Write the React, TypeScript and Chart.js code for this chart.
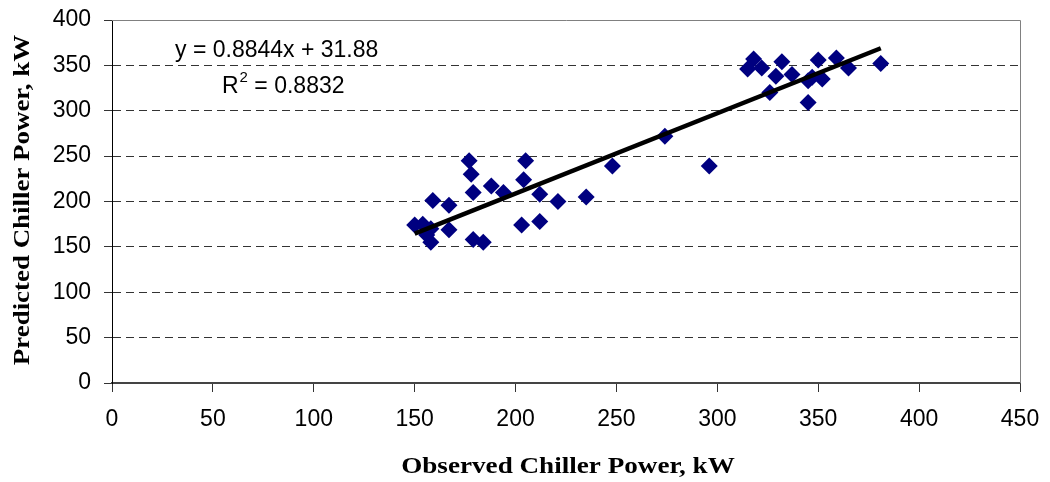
import React, { useEffect, useRef } from "react";
import { Chart, registerables } from "chart.js";
Chart.register(...registerables);

// Observed vs predicted chiller power (kW)
const observedKW = [
  150, 154, 156, 158, 158, 159, 167, 167, 179, 184,
  177, 178, 179, 188, 194, 203, 204, 205, 212, 212, 221, 235, 248, 274, 296,
  315, 318, 322, 326, 329, 332, 337, 345, 345, 347, 350, 352, 359, 365, 381,
];
const predictedKW = [
  174, 175, 163, 155, 170, 201, 196, 169, 158, 155,
  245, 230, 210, 217, 210, 174, 224, 245, 178, 208, 200, 205, 239, 272, 239,
  346, 357, 347, 320, 338, 354, 340, 309, 333, 337, 356, 335, 358, 347, 352,
];

const trendSlope = 0.8844;
const trendIntercept = 31.88;
const trendRangeX = [150, 381];
const equationText = "y = 0.8844x + 31.88";
const r2Text = "0.8832";

const xTitle = "Observed Chiller Power, kW";
const yTitle = "Predicted Chiller Power, kW";
const xMin = 0, xMax = 450, xStep = 50;
const yMin = 0, yMax = 400, yStep = 50;

const TITLE_FONT = "bold 23px 'Liberation Serif', 'Times New Roman', serif";
const LABEL_FONT = "23px 'Liberation Sans', Arial, sans-serif";

const zeroPadding = (s: any) => {
  s.paddingTop = 0;
  s.paddingBottom = 0;
  s.paddingLeft = 0;
  s.paddingRight = 0;
};

const frameAndLabels = {
  id: "frameAndLabels",
  afterDatasetsDraw(chart: any) {
    const { ctx, chartArea } = chart;
    const { left, right, top, bottom } = chartArea;
    ctx.save();
    ctx.strokeStyle = "#808080";
    ctx.lineWidth = 1;
    ctx.beginPath();
    ctx.moveTo(left, Math.round(top) + 0.5);
    ctx.lineTo(Math.round(right) + 0.5, Math.round(top) + 0.5);
    ctx.lineTo(Math.round(right) + 0.5, bottom);
    ctx.stroke();

    // regression equation
    ctx.fillStyle = "#000";
    ctx.textBaseline = "alphabetic";
    ctx.textAlign = "left";
    ctx.font = LABEL_FONT;
    ctx.fillText(equationText, 175, 57);
    ctx.fillText("R", 222, 93);
    const rw = ctx.measureText("R").width;
    ctx.font = "15px 'Liberation Sans', Arial, sans-serif";
    ctx.fillText("2", 222 + rw + 1, 82);
    const tw = ctx.measureText("2").width;
    ctx.font = LABEL_FONT;
    ctx.fillText(" = " + r2Text, 222 + rw + 1 + tw, 93);

    // axis titles (slightly widened serif, as in the original)
    ctx.font = TITLE_FONT;
    ctx.textAlign = "center";
    ctx.save();
    ctx.translate(568, 473);
    ctx.scale(1.18, 1);
    ctx.fillText(xTitle, 0, 0);
    ctx.restore();

    ctx.save();
    ctx.translate(29, 200);
    ctx.rotate(-Math.PI / 2);
    ctx.scale(1.17, 1);
    ctx.fillText(yTitle, 0, 0);
    ctx.restore();
    ctx.restore();
  },
};

export default function App() {
  const ref = useRef<HTMLCanvasElement | null>(null);
  useEffect(() => {
    if (!ref.current) return;
    const points = observedKW.map((x, i) => ({ x, y: predictedKW[i] }));
    const trend = trendRangeX.map((x) => ({ x, y: trendSlope * x + trendIntercept }));
    const tickFont = { family: "'Liberation Sans', Arial, sans-serif", size: 23 };
    const chart = new Chart(ref.current, {
      type: "scatter",
      data: {
        datasets: [
          {
            type: "line",
            label: "Trend",
            data: trend,
            borderColor: "#000",
            borderWidth: 4.5,
            pointRadius: 0,
            fill: false,
            order: 0,
          } as any,
          {
            label: "Data",
            data: points,
            backgroundColor: "#000080",
            borderColor: "#000080",
            borderWidth: 0,
            pointStyle: "rectRot",
            pointRadius: 8.5,
            order: 1,
          },
        ],
      },
      options: {
        animation: false,
        responsive: false,
        maintainAspectRatio: false,
        layout: { padding: { top: 20, right: 30, left: 0, bottom: 0 } },
        plugins: { legend: { display: false }, tooltip: { enabled: false } },
        scales: {
          x: {
            type: "linear",
            min: xMin,
            max: xMax,
            ticks: { stepSize: xStep, color: "#000", font: tickFont, padding: 14, maxRotation: 0 },
            grid: { drawOnChartArea: false, drawTicks: true, tickLength: 9, tickColor: "#333", tickWidth: 1 },
            border: { display: true, color: "#444", width: 2 },
            title: { display: false },
            afterFit: (s: any) => { s.height = 99; zeroPadding(s); },
          },
          y: {
            type: "linear",
            min: yMin,
            max: yMax,
            ticks: { stepSize: yStep, color: "#000", font: tickFont, padding: 13 },
            grid: {
              color: (c: any) => (c.tick && (c.tick.value === yMax || c.tick.value === yMin) ? "rgba(0,0,0,0)" : "#333"),
              tickBorderDash: [],
              tickColor: "#333",
              tickLength: 8,
              lineWidth: 1,
            } as any,
            border: { display: true, color: "#000", width: 1, dash: [8, 5] },
            title: { display: false },
            afterFit: (s: any) => { s.width = 112; zeroPadding(s); },
          },
        },
      },
      plugins: [frameAndLabels],
    });
    return () => chart.destroy();
  }, []);
  return (
    <div style={{ position: "fixed", left: 0, top: 0, width: 1050, height: 482, background: "#fff" }}>
      <canvas ref={ref} width={1050} height={482} style={{ display: "block", width: 1050, height: 482 }} />
    </div>
  );
}
